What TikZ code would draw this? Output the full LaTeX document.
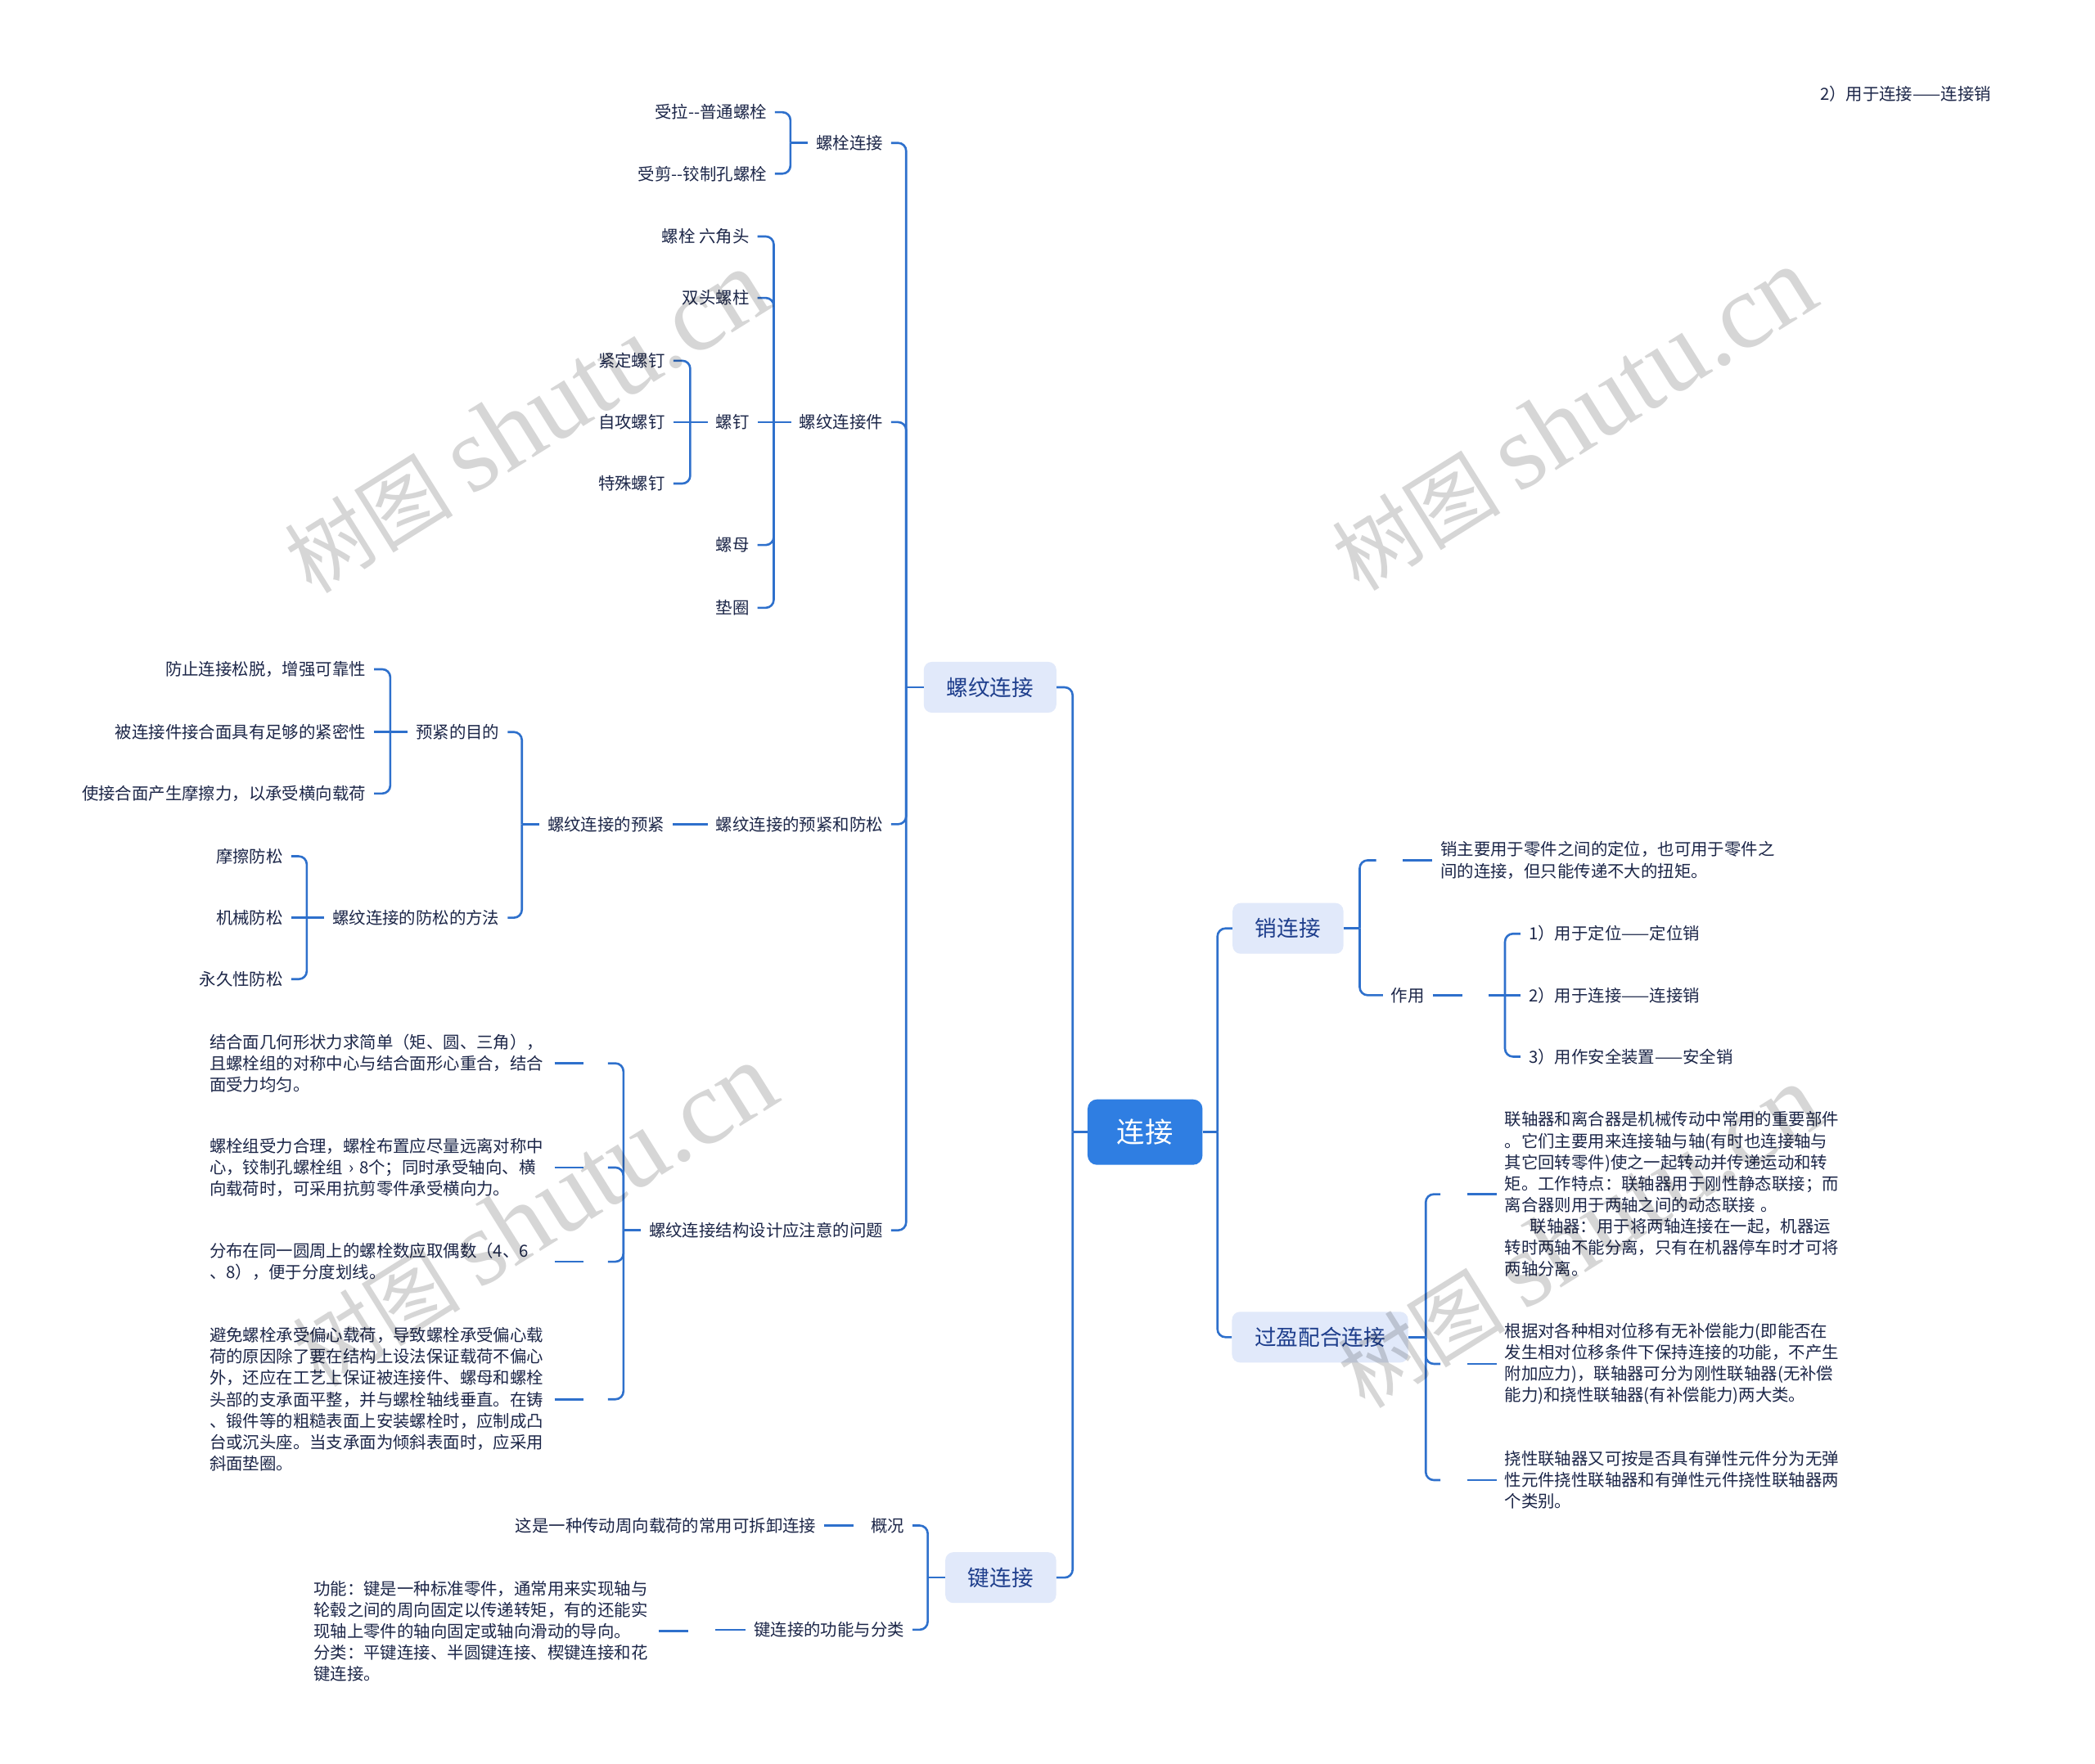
\documentclass[tikz,border=0pt]{standalone}
\usepackage{fontspec}
\setmainfont{Noto Sans CJK SC}
\newfontfamily\wmserif{Liberation Serif}
\usetikzlibrary{positioning}

\definecolor{linec}{RGB}{46,112,204}
\definecolor{rootc}{RGB}{47,126,226}
\definecolor{boxc}{RGB}{225,233,250}
\definecolor{boxtxt}{RGB}{30,62,140}
\definecolor{txtc}{RGB}{28,38,72}
\definecolor{wmc}{RGB}{214,214,214}

\begin{document}
\begin{tikzpicture}[x=1pt, y=-1pt,
    every node/.style={inner sep=0pt},
    root/.style={fill=rootc, text=white, rounded corners=7pt,
                 font=\fontsize{21}{24}\selectfont, inner xsep=22pt, minimum height=49pt},
    main/.style={fill=boxc, text=boxtxt, rounded corners=6pt,
                 font=\fontsize{16.3}{20}\selectfont, inner xsep=17pt, minimum height=38pt},
    lbl/.style={text=txtc, font=\fontsize{12.5}{16}\selectfont, inner xsep=6pt, inner ysep=1pt},
    blk/.style={lbl, align=left, text width=252pt},
    br/.style={draw=linec, line width=1.6pt, rounded corners=6pt},
    wm/.style={text=wmc, rotate=32},
  ]
  \fill[white] (0,0) rectangle (1568,1320);
  \useasboundingbox (0,0) rectangle (1568,1320);

  % main topics
  \node[root] (root) at (857, 847.5) {连接};
  \node[main] (lw) at (741, 514.5) {螺纹连接};
  \node[main] (jj) at (749, 1181) {键连接};
  \node[main] (xj) at (964, 695) {销连接};
  \node[main] (gy) at (988, 1001) {过盈配合连接};

  % 螺纹连接
  \node[lbl, anchor=east] (lsj) at (667, 107) {螺栓连接};
  \node[lbl, anchor=east] (ljj) at (667, 316) {螺纹连接件};
  \node[lbl, anchor=east] (lyf) at (667, 617) {螺纹连接的预紧和防松};
  \node[lbl, anchor=east] (lsw) at (667, 921) {螺纹连接结构设计应注意的问题};

  \node[lbl, anchor=east] (sl) at (580, 84) {受拉-{}-普通螺栓};
  \node[lbl, anchor=east] (sj) at (580, 130) {受剪-{}-铰制孔螺栓};

  \node[lbl, anchor=east] (lhj) at (567, 177) {螺栓 六角头};
  \node[lbl, anchor=east] (stl) at (567, 223) {双头螺柱};
  \node[lbl, anchor=east] (ld) at (567, 316) {螺钉};
  \node[lbl, anchor=east] (lm) at (567, 408) {螺母};
  \node[lbl, anchor=east] (dq) at (567, 455) {垫圈};

  \node[lbl, anchor=east] (jd) at (504, 270) {紧定螺钉};
  \node[lbl, anchor=east] (zg) at (504, 316) {自攻螺钉};
  \node[lbl, anchor=east] (ts) at (504, 362) {特殊螺钉};

  \node[lbl, anchor=east] (yj) at (503.5, 617) {螺纹连接的预紧};
  \node[lbl, anchor=east] (mud) at (380, 548) {预紧的目的};
  \node[lbl, anchor=east] (fsf) at (380, 687) {螺纹连接的防松的方法};

  \node[lbl, anchor=east] (m1) at (280, 501) {防止连接松脱，增强可靠性};
  \node[lbl, anchor=east] (m2) at (280, 548) {被连接件接合面具有足够的紧密性};
  \node[lbl, anchor=east] (m3) at (280, 594) {使接合面产生摩擦力，以承受横向载荷};

  \node[lbl, anchor=east] (f1) at (218, 641) {摩擦防松};
  \node[lbl, anchor=east] (f2) at (218, 687) {机械防松};
  \node[lbl, anchor=east] (f3) at (218, 733) {永久性防松};

  \node[blk, anchor=east] (b1) at (415, 796) {结合面几何形状力求简单（矩、圆、三角），\\且螺栓组的对称中心与结合面形心重合，结合\\面受力均匀。};
  \node[blk, anchor=east] (b2) at (415, 874) {螺栓组受力合理，螺栓布置应尽量远离对称中\\心，铰制孔螺栓组 › 8个；同时承受轴向、横\\向载荷时，可采用抗剪零件承受横向力。};
  \node[blk, anchor=east] (b3) at (415, 944.5) {分布在同一圆周上的螺栓数应取偶数（4、6\\、8），便于分度划线。};
  \node[blk, anchor=east] (b4) at (415, 1047.5) {避免螺栓承受偏心载荷，导致螺栓承受偏心载\\荷的原因除了要在结构上设法保证载荷不偏心\\外，还应在工艺上保证被连接件、螺母和螺栓\\头部的支承面平整，并与螺栓轴线垂直。在铸\\、锻件等的粗糙表面上安装螺栓时，应制成凸\\台或沉头座。当支承面为倾斜表面时，应采用\\斜面垫圈。};

  % 键连接
  \node[lbl, anchor=east] (gk) at (683, 1142) {概况};
  \node[lbl, anchor=east] (gn) at (683, 1220) {键连接的功能与分类};
  \node[lbl, anchor=east] (gs) at (617, 1142) {这是一种传动周向载荷的常用可拆卸连接};
  \node[blk, anchor=east] (kb) at (493, 1221) {功能：键是一种标准零件，通常用来实现轴与\\轮毂之间的周向固定以传递转矩，有的还能实\\现轴上零件的轴向固定或轴向滑动的导向。\\分类：平键连接、半圆键连接、楔键连接和花\\键连接。};

  % 销连接
  \node[blk, anchor=west] (pb) at (1072, 644) {销主要用于零件之间的定位，也可用于零件之\\间的连接，但只能传递不大的扭矩。};
  \node[lbl, anchor=west] (zy) at (1035, 745) {作用};
  \node[lbl, anchor=west] (p1) at (1138, 699) {1）用于定位——定位销};
  \node[lbl, anchor=west] (p2) at (1138, 745) {2）用于连接——连接销};
  \node[lbl, anchor=west] (p3) at (1138, 791) {3）用作安全装置——安全销};

  % 过盈配合连接
  \node[blk, anchor=west] (g1) at (1120, 894) {联轴器和离合器是机械传动中常用的重要部件\\。它们主要用来连接轴与轴(有时也连接轴与\\其它回转零件)使之一起转动并传递运动和转\\矩。工作特点：联轴器用于刚性静态联接；而\\离合器则用于两轴之间的动态联接 。\\\hspace*{19pt}联轴器：用于将两轴连接在一起，机器运\\转时两轴不能分离，只有在机器停车时才可将\\两轴分离。};
  \node[blk, anchor=west] (g2) at (1120, 1021) {根据对各种相对位移有无补偿能力(即能否在\\发生相对位移条件下保持连接的功能，不产生\\附加应力)，联轴器可分为刚性联轴器(无补偿\\能力)和挠性联轴器(有补偿能力)两大类。};
  \node[blk, anchor=west] (g3) at (1120, 1108) {挠性联轴器又可按是否具有弹性元件分为无弹\\性元件挠性联轴器和有弹性元件挠性联轴器两\\个类别。};

  \node[lbl, anchor=west] (extra) at (1356, 70) {2）用于连接——连接销};

  % connectors, left half
  \draw[br] (root.west) -- ++(-11,0) coordinate (t0);
  \draw[br] (t0) |- (lw.east);
  \draw[br] (t0) |- (jj.east);

  \draw[br] (lw.west) -- ++(-13,0) coordinate (t1);
  \draw[br] (t1) |- (lsj.east);
  \draw[br] (t1) |- (ljj.east);
  \draw[br] (t1) |- (lyf.east);
  \draw[br] (t1) |- (lsw.east);

  \draw[br] (lsj.west) -- ++(-13,0) coordinate (t2);
  \draw[br] (t2) |- (sl.east);
  \draw[br] (t2) |- (sj.east);

  \draw[br] (ljj.west) -- ++(-13,0) coordinate (t3);
  \draw[br] (t3) |- (lhj.east);
  \draw[br] (t3) |- (stl.east);
  \draw[br] (t3) -- (ld.east);
  \draw[br] (t3) |- (lm.east);
  \draw[br] (t3) |- (dq.east);

  \draw[br] (ld.west) -- ++(-13,0) coordinate (t4);
  \draw[br] (t4) |- (jd.east);
  \draw[br] (t4) -- (zg.east);
  \draw[br] (t4) |- (ts.east);

  \draw[br] (lyf.west) -- (yj.east);

  \draw[br] (yj.west) -- ++(-13,0) coordinate (t5);
  \draw[br] (t5) |- (mud.east);
  \draw[br] (t5) |- (fsf.east);

  \draw[br] (mud.west) -- ++(-13,0) coordinate (t6);
  \draw[br] (t6) |- (m1.east);
  \draw[br] (t6) -- (m2.east);
  \draw[br] (t6) |- (m3.east);

  \draw[br] (fsf.west) -- ++(-13,0) coordinate (t7);
  \draw[br] (t7) |- (f1.east);
  \draw[br] (t7) -- (f2.east);
  \draw[br] (t7) |- (f3.east);

  \draw[br] (lsw.west) -- ++(-13,0) coordinate (t8);
  \draw[br] (t8) |- ([xshift=40]b1.east);
  \draw[br] (t8) |- ([xshift=40]b2.east);
  \draw[br] (t8) |- ([xshift=40]b3.east);
  \draw[br] (t8) |- ([xshift=40]b4.east);
  \draw[br] (b1.east) -- ++(22,0);
  \draw[br] (b2.east) -- ++(22,0);
  \draw[br] (b3.east) -- ++(22,0);
  \draw[br] (b4.east) -- ++(22,0);

  \draw[br] (jj.west) -- ++(-13,0) coordinate (t9);
  \draw[br] (t9) |- (gk.east);
  \draw[br] (t9) |- (gn.east);
  \draw[br] (gs.east) -- ++(22,0);
  \draw[br] (gn.west) -- ++(-23,0);
  \draw[br] (kb.east) -- ++(22,0);

  % connectors, right half
  \draw[br] (root.east) -- ++(11,0) coordinate (r0);
  \draw[br] (r0) |- (xj.west);
  \draw[br] (r0) |- (gy.west);

  \draw[br] (xj.east) -- ++(12,0) coordinate (r1);
  \draw[br] (r1) |- ([xshift=-42]pb.west);
  \draw[br] (r1) |- (zy.west);
  \draw[br] (pb.west) -- ++(-22,0);

  \draw[br] (zy.east) -- ++(22,0);
  \draw[br] ([xshift=42]zy.east) -- ++(12,0) coordinate (r2);
  \draw[br] (r2) |- (p1.west);
  \draw[br] (r2) -- (p2.west);
  \draw[br] (r2) |- (p3.west);

  \draw[br] (gy.east) -- ++(13,0) coordinate (r3);
  \draw[br] (r3) |- ([xshift=-42]g1.west);
  \draw[br] (r3) |- ([xshift=-42]g2.west);
  \draw[br] (r3) |- ([xshift=-42]g3.west);
  \draw[br] (g1.west) -- ++(-22,0);
  \draw[br] (g2.west) -- ++(-22,0);
  \draw[br] (g3.west) -- ++(-22,0);

  % watermark
  \begin{scope}[blend mode=multiply]
    \node[wm] (wm1) at (394, 316) {\fontsize{63}{63}\selectfont 树图 {\wmserif\fontsize{80}{80}\selectfont shutu.cn}};
    \node[wm] (wm2) at (1178, 314) {\fontsize{63}{63}\selectfont 树图 {\wmserif\fontsize{80}{80}\selectfont shutu.cn}};
    \node[wm] (wm3) at (400, 910) {\fontsize{63}{63}\selectfont 树图 {\wmserif\fontsize{80}{80}\selectfont shutu.cn}};
    \node[wm] (wm4) at (1182, 926) {\fontsize{63}{63}\selectfont 树图 {\wmserif\fontsize{80}{80}\selectfont shutu.cn}};
  \end{scope}
\end{tikzpicture}
\end{document}
